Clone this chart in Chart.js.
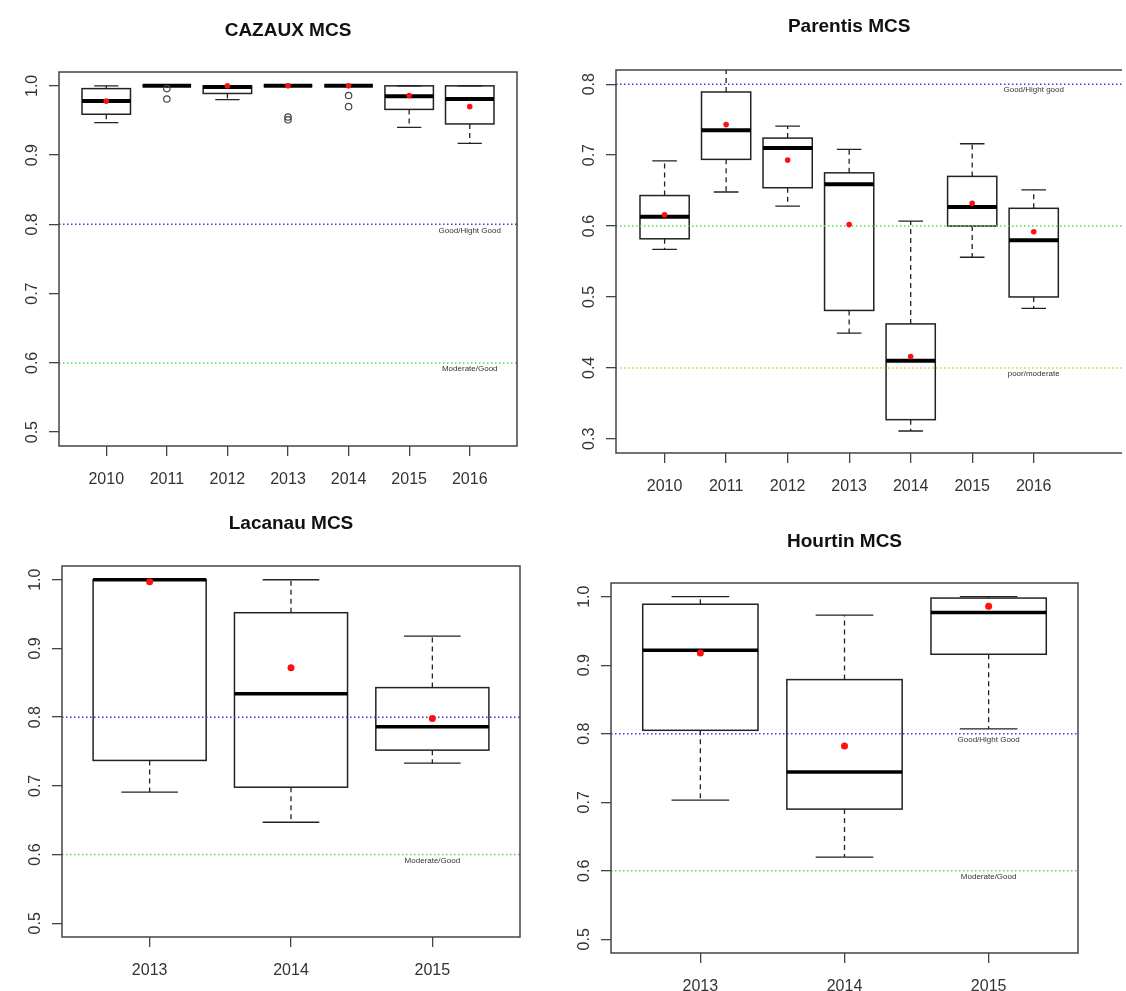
<!DOCTYPE html>
<html>
<head>
<meta charset="utf-8">
<title>MCS boxplots</title>
<script src="https://cdn.jsdelivr.net/npm/chart.js@4.4.1/dist/chart.umd.min.js"></script>
<style>
body { margin: 0; background: #fff; }
canvas { position: absolute; }
</style>
</head>
<body>
<canvas id="cazaux" width="560" height="500" style="left:0;top:0"></canvas>
<canvas id="parentis" width="566" height="500" style="left:560px;top:0"></canvas>
<canvas id="lacanau" width="560" height="491" style="left:0;top:500px"></canvas>
<canvas id="hourtin" width="566" height="491" style="left:560px;top:500px"></canvas>
<script>
/* CAZAUX */
var cazauxYears = ['2010', '2011', '2012', '2013', '2014', '2015', '2016'];
var cazauxLow  = [0.947, 1.0, 0.980, 1.0, 1.0, 0.940, 0.917];
var cazauxQ1   = [0.959, 1.0, 0.989, 1.0, 1.0, 0.966, 0.945];
var cazauxMed  = [0.978, 1.0, 0.9985, 1.0, 1.0, 0.985, 0.981];
var cazauxQ3   = [0.996, 1.0, 1.0, 1.0, 1.0, 1.0, 1.0];
var cazauxHigh = [1.0, 1.0, 1.0, 1.0, 1.0, 1.0, 1.0];
var cazauxMean = [0.978, null, 1.0, 1.0, 1.0, 0.986, 0.970];
var cazauxOut  = [[], [0.996, 0.981], [], [0.955, 0.951], [0.986, 0.970], [], []];
var cazauxRefs = [0.8, 0.6];
var cazauxRefLabels = ['Good/Hight Good', 'Moderate/Good'];

/* Parentis */
var parentisYears = ['2010', '2011', '2012', '2013', '2014', '2015', '2016'];
var parentisLow  = [0.567, 0.648, 0.628, 0.449, 0.311, 0.556, 0.484];
var parentisQ1   = [0.582, 0.694, 0.654, 0.481, 0.327, 0.600, 0.500];
var parentisMed  = [0.613, 0.735, 0.710, 0.659, 0.410, 0.627, 0.580];
var parentisQ3   = [0.643, 0.789, 0.724, 0.675, 0.462, 0.670, 0.625];
var parentisHigh = [0.692, 0.840, 0.741, 0.708, 0.607, 0.716, 0.651];
var parentisMean = [0.616, 0.743, 0.693, 0.602, 0.416, 0.632, 0.592];
var parentisOut  = [[], [], [], [], [], [], []];
var parentisRefs = [0.8, 0.6, 0.4];
var parentisRefLabels = ['Good/Hight good', '', 'poor/moderate'];

/* Lacanau */
var lacanauYears = ['2013', '2014', '2015'];
var lacanauLow  = [0.691, 0.647, 0.733];
var lacanauQ1   = [0.737, 0.698, 0.752];
var lacanauMed  = [1.0, 0.834, 0.786];
var lacanauQ3   = [1.0, 0.952, 0.843];
var lacanauHigh = [1.0, 1.0, 0.918];
var lacanauMean = [0.997, 0.872, 0.798];
var lacanauOut  = [[], [], []];
var lacanauRefs = [0.8, 0.6];
var lacanauRefLabels = ['', 'Moderate/Good'];

/* Hourtin */
var hourtinYears = ['2013', '2014', '2015'];
var hourtinLow  = [0.703, 0.620, 0.807];
var hourtinQ1   = [0.805, 0.690, 0.916];
var hourtinMed  = [0.922, 0.744, 0.977];
var hourtinQ3   = [0.989, 0.879, 0.998];
var hourtinHigh = [1.0, 0.973, 1.0];
var hourtinMean = [0.918, 0.782, 0.986];
var hourtinOut  = [[], [], []];
var hourtinRefs = [0.8, 0.6];
var hourtinRefLabels = ['Good/Hight Good', 'Moderate/Good'];

var yTicksHigh = [0.5, 0.6, 0.7, 0.8, 0.9, 1.0];
var yTicksLow  = [0.3, 0.4, 0.5, 0.6, 0.7, 0.8];

var refColor = { '0.8': '#3a3ae8', '0.6': '#4fdc4f', '0.4': '#f2c14a' };
var FONT = '"Liberation Sans", Arial, sans-serif';
var INK = '#444';

function makeChart(id, p) {
    var n = p.years.length;

    var means = [];
    p.mean.forEach(function (v, i) {
        if (v !== null) means.push({ x: i + 1, y: v });
    });
    var outs = [];
    p.out.forEach(function (list, i) {
        list.forEach(function (v) { outs.push({ x: i + 1, y: v }); });
    });

    var drawPlugin = {
        id: 'bxp' + id,
        beforeDatasetsDraw: function (chart) {
            var ctx = chart.ctx;
            var xs = chart.scales.x, ys = chart.scales.y;
            var a = chart.chartArea;
            ctx.save();
            ctx.beginPath();
            ctx.rect(a.left, a.top, a.right - a.left, a.bottom - a.top);
            ctx.clip();
            ctx.strokeStyle = '#222';
            for (var i = 0; i < n; i++) {
                var cx = xs.getPixelForValue(i + 1);
                var half = xs.getPixelForValue(i + 1.4) - cx;
                var yLow = ys.getPixelForValue(p.low[i]);
                var yQ1 = ys.getPixelForValue(p.q1[i]);
                var yMed = ys.getPixelForValue(p.med[i]);
                var yQ3 = ys.getPixelForValue(p.q3[i]);
                var yHigh = ys.getPixelForValue(p.high[i]);
                // whiskers
                ctx.lineWidth = 1.3;
                ctx.setLineDash([5, 4]);
                ctx.beginPath();
                ctx.moveTo(cx, yQ3); ctx.lineTo(cx, yHigh);
                ctx.moveTo(cx, yQ1); ctx.lineTo(cx, yLow);
                ctx.stroke();
                ctx.setLineDash([]);
                // staples
                ctx.beginPath();
                ctx.moveTo(cx - half / 2, yHigh); ctx.lineTo(cx + half / 2, yHigh);
                ctx.moveTo(cx - half / 2, yLow); ctx.lineTo(cx + half / 2, yLow);
                ctx.stroke();
                // box
                ctx.lineWidth = 1.5;
                ctx.strokeRect(cx - half, yQ3, half * 2, yQ1 - yQ3);
                // median
                ctx.lineWidth = p.medWidth;
                ctx.strokeStyle = '#000';
                ctx.beginPath();
                ctx.moveTo(cx - half, yMed); ctx.lineTo(cx + half, yMed);
                ctx.stroke();
                ctx.strokeStyle = '#222';
            }
            // threshold lines
            ctx.lineWidth = 1.5;
            ctx.setLineDash([1.5, 2.5]);
            p.refs.forEach(function (v) {
                var y = ys.getPixelForValue(v);
                ctx.strokeStyle = refColor[v.toFixed(1)];
                ctx.beginPath();
                ctx.moveTo(a.left, y); ctx.lineTo(a.right, y);
                ctx.stroke();
            });
            ctx.restore();
        },
        afterDraw: function (chart) {
            var ctx = chart.ctx;
            var xs = chart.scales.x, ys = chart.scales.y;
            var a = chart.chartArea;
            ctx.save();
            // frame
            ctx.strokeStyle = INK;
            ctx.lineWidth = 1.5;
            ctx.beginPath();
            ctx.moveTo(a.right, a.top); ctx.lineTo(a.left, a.top);
            ctx.lineTo(a.left, a.bottom); ctx.lineTo(a.right, a.bottom);
            if (p.frameRight) ctx.closePath();
            ctx.stroke();
            // threshold labels
            ctx.fillStyle = '#333';
            ctx.font = '8px ' + FONT;
            ctx.textAlign = 'center';
            ctx.textBaseline = 'middle';
            p.refs.forEach(function (v, k) {
                if (!p.refLabels[k]) return;
                ctx.fillText(p.refLabels[k], xs.getPixelForValue(n), ys.getPixelForValue(v) + 6);
            });
            // title
            ctx.fillStyle = '#111';
            ctx.font = 'bold 19px ' + FONT;
            ctx.fillText(p.title, xs.getPixelForValue((n + 1) / 2), p.titleY);
            ctx.restore();
        }
    };

    var tickFont = { family: FONT, size: 16 };

    return new Chart(document.getElementById(id), {
        type: 'scatter',
        data: {
            datasets: [{
                label: 'mean',
                data: means,
                pointStyle: 'circle',
                pointRadius: p.dotRadius,
                backgroundColor: '#ff1010',
                borderWidth: 0
            }, {
                label: 'outliers',
                data: outs,
                pointStyle: 'circle',
                pointRadius: 3.2,
                backgroundColor: 'rgba(0,0,0,0)',
                borderColor: INK,
                borderWidth: 1.2
            }]
        },
        options: {
            responsive: false,
            animation: false,
            events: [],
            layout: { padding: { top: p.area.t, right: p.width - p.area.r, left: 0, bottom: 0 } },
            plugins: { legend: { display: false }, tooltip: { enabled: false }, title: { display: false } },
            scales: {
                x: {
                    type: 'linear',
                    min: p.xMin,
                    max: p.xMax,
                    afterBuildTicks: function (s) {
                        s.ticks = p.years.map(function (y, i) { return { value: i + 1 }; });
                    },
                    afterFit: function (s) { s.height = p.height - p.area.b; },
                    border: { display: false },
                    grid: { drawOnChartArea: false, drawTicks: true, tickLength: 10, color: INK, lineWidth: 1.3 },
                    ticks: {
                        autoSkip: false,
                        maxRotation: 0,
                        padding: 14,
                        color: '#333',
                        font: tickFont,
                        callback: function (v) { return p.years[Math.round(v) - 1]; }
                    }
                },
                y: {
                    type: 'linear',
                    min: p.yMin,
                    max: p.yMax,
                    afterBuildTicks: function (s) {
                        s.ticks = p.yTicks.map(function (v) { return { value: v }; });
                    },
                    afterFit: function (s) { s.width = p.area.l; },
                    border: { display: false },
                    grid: { drawOnChartArea: false, drawTicks: true, tickLength: 10, color: INK, lineWidth: 1.3 },
                    ticks: {
                        minRotation: 90,
                        maxRotation: 90,
                        crossAlign: 'center',
                        padding: 5,
                        color: '#333',
                        font: tickFont,
                        callback: function (v) { return v.toFixed(1); }
                    }
                }
            }
        },
        plugins: [drawPlugin]
    });
}

makeChart('cazaux', {
    title: 'CAZAUX MCS', years: cazauxYears,
    low: cazauxLow, q1: cazauxQ1, med: cazauxMed, q3: cazauxQ3, high: cazauxHigh,
    mean: cazauxMean, out: cazauxOut, refs: cazauxRefs, refLabels: cazauxRefLabels,
    yTicks: yTicksHigh, yMin: 0.48, yMax: 1.02, xMin: 0.22, xMax: 7.78,
    width: 560, height: 500, area: { l: 59, t: 72, r: 517, b: 446 },
    titleY: 31, frameRight: true, dotRadius: 2.8, medWidth: 4
});

makeChart('parentis', {
    title: 'Parentis MCS', years: parentisYears,
    low: parentisLow, q1: parentisQ1, med: parentisMed, q3: parentisQ3, high: parentisHigh,
    mean: parentisMean, out: parentisOut, refs: parentisRefs, refLabels: parentisRefLabels,
    yTicks: yTicksLow, yMin: 0.28, yMax: 0.82, xMin: 0.21, xMax: 8.435,
    width: 566, height: 500, area: { l: 56, t: 70, r: 566, b: 453 },
    titleY: 27, frameRight: false, dotRadius: 2.8, medWidth: 4
});

makeChart('lacanau', {
    title: 'Lacanau MCS', years: lacanauYears,
    low: lacanauLow, q1: lacanauQ1, med: lacanauMed, q3: lacanauQ3, high: lacanauHigh,
    mean: lacanauMean, out: lacanauOut, refs: lacanauRefs, refLabels: lacanauRefLabels,
    yTicks: yTicksHigh, yMin: 0.48, yMax: 1.02, xMin: 0.38, xMax: 3.62,
    width: 560, height: 491, area: { l: 62, t: 66, r: 520, b: 437 },
    titleY: 24, frameRight: true, dotRadius: 3.5, medWidth: 3.5
});

makeChart('hourtin', {
    title: 'Hourtin MCS', years: hourtinYears,
    low: hourtinLow, q1: hourtinQ1, med: hourtinMed, q3: hourtinQ3, high: hourtinHigh,
    mean: hourtinMean, out: hourtinOut, refs: hourtinRefs, refLabels: hourtinRefLabels,
    yTicks: yTicksHigh, yMin: 0.48, yMax: 1.02, xMin: 0.38, xMax: 3.62,
    width: 566, height: 491, area: { l: 51, t: 83, r: 518, b: 453 },
    titleY: 42, frameRight: true, dotRadius: 3.5, medWidth: 3.5
});
</script>
</body>
</html>
